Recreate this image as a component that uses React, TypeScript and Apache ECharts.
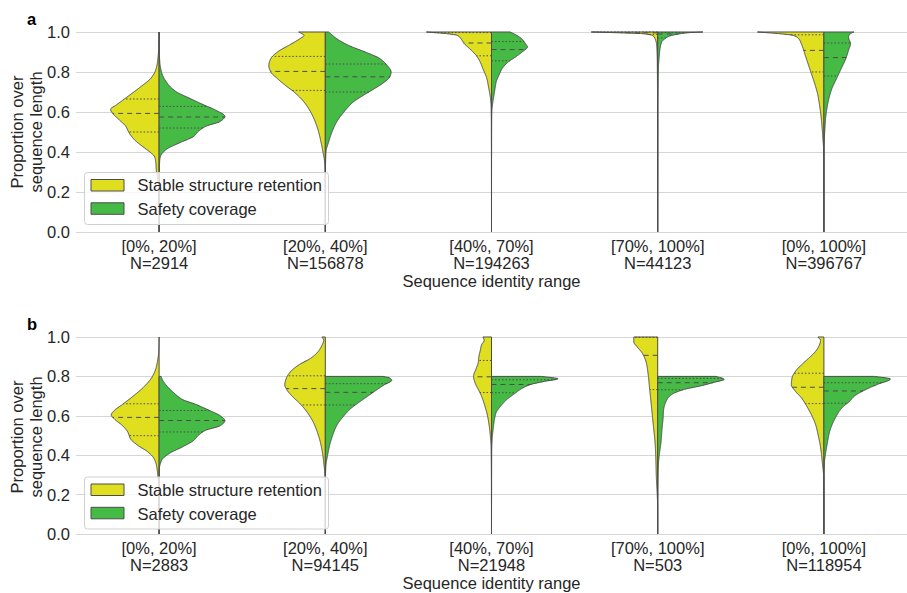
import React, { useEffect, useRef } from "react";
import * as echarts from "echarts";

// Category labels and sample counts for the two panels
const identityRanges = ["[0%, 20%]", "[20%, 40%]", "[40%, 70%]", "[70%, 100%]", "[0%, 100%]"];
const pairCountsA = [2914, 156878, 194263, 44123, 396767];
const pairCountsB = [2883, 94145, 21948, 503, 118954];
const hueNames = ["Stable structure retention", "Safety coverage"];
const hueColors = ["#dfdf20", "#45ba45"];

// Density profiles: [proportion, relative half-width]; 1 = widest half-violin
const retentionProfilesA: [number, number][][] = [
  [[0, 0], [0.15, 0.003], [0.25, 0.015], [0.3, 0.04], [0.35, 0.05], [0.378, 0.07], [0.395, 0.12], [0.428, 0.25], [0.461, 0.37], [0.495, 0.45], [0.528, 0.5], [0.561, 0.6], [0.59, 0.69], [0.613, 0.73], [0.636, 0.64], [0.678, 0.47], [0.728, 0.27], [0.77, 0.12], [0.811, 0.05], [0.86, 0.02], [0.92, 0.006], [1, 0]],
  [[0, 0], [0.3, 0.003], [0.35, 0.01], [0.4, 0.035], [0.45, 0.065], [0.5, 0.1], [0.55, 0.15], [0.6, 0.22], [0.65, 0.32], [0.7, 0.47], [0.733, 0.6], [0.767, 0.72], [0.8, 0.82], [0.833, 0.85], [0.867, 0.82], [0.9, 0.72], [0.933, 0.55], [0.967, 0.38], [0.983, 0.32], [1, 0.4]],
  [[0, 0], [0.5, 0.002], [0.617, 0.005], [0.667, 0.015], [0.717, 0.04], [0.767, 0.07], [0.817, 0.13], [0.85, 0.17], [0.883, 0.23], [0.917, 0.33], [0.942, 0.41], [0.967, 0.46], [0.983, 0.51], [0.992, 0.68], [1, 0.98]],
  [[0, 0], [0.6, 0.002], [0.85, 0.006], [0.933, 0.015], [0.967, 0.04], [0.983, 0.08], [0.992, 0.24], [1, 1]],
  [[0, 0], [0.35, 0.002], [0.417, 0.005], [0.467, 0.015], [0.533, 0.03], [0.583, 0.045], [0.633, 0.065], [0.683, 0.09], [0.733, 0.13], [0.783, 0.18], [0.833, 0.23], [0.883, 0.28], [0.933, 0.33], [0.967, 0.38], [0.983, 0.46], [0.992, 0.68], [1, 1]],
];
const coverageProfilesA: [number, number][][] = [
  [[0, 0], [0.3, 0.003], [0.36, 0.01], [0.378, 0.02], [0.411, 0.1], [0.445, 0.3], [0.478, 0.52], [0.503, 0.59], [0.528, 0.7], [0.553, 0.92], [0.578, 0.99], [0.611, 0.84], [0.636, 0.67], [0.67, 0.45], [0.703, 0.25], [0.745, 0.12], [0.795, 0.04], [0.85, 0.01], [0.92, 0.002], [1, 0]],
  [[0, 0], [0.3, 0.002], [0.4, 0.01], [0.45, 0.05], [0.5, 0.1], [0.55, 0.17], [0.6, 0.28], [0.65, 0.42], [0.683, 0.57], [0.717, 0.74], [0.75, 0.89], [0.775, 0.97], [0.8, 0.99], [0.833, 0.93], [0.867, 0.82], [0.9, 0.6], [0.933, 0.35], [0.967, 0.17], [1, 0.05]],
  [[0, 0], [0.5, 0.002], [0.6, 0.005], [0.65, 0.02], [0.7, 0.045], [0.75, 0.07], [0.783, 0.11], [0.817, 0.16], [0.85, 0.25], [0.875, 0.36], [0.9, 0.46], [0.925, 0.54], [0.942, 0.51], [0.967, 0.45], [0.987, 0.36], [1, 0.28]],
  [[0, 0], [0.6, 0.003], [0.817, 0.01], [0.867, 0.02], [0.917, 0.035], [0.95, 0.06], [0.967, 0.11], [0.98, 0.18], [0.988, 0.28], [0.997, 0.48], [1, 0.68]],
  [[0, 0], [0.4, 0.002], [0.45, 0.005], [0.517, 0.015], [0.567, 0.025], [0.617, 0.045], [0.667, 0.075], [0.717, 0.12], [0.767, 0.19], [0.817, 0.26], [0.867, 0.33], [0.908, 0.37], [0.942, 0.4], [0.975, 0.37], [0.992, 0.4], [1, 0.45]],
];
const retentionProfilesB: [number, number][][] = [
  [[0, 0], [0.2, 0.002], [0.25, 0.005], [0.3, 0.02], [0.35, 0.04], [0.383, 0.075], [0.417, 0.17], [0.45, 0.32], [0.483, 0.43], [0.517, 0.47], [0.55, 0.55], [0.583, 0.67], [0.605, 0.72], [0.625, 0.68], [0.658, 0.55], [0.7, 0.39], [0.75, 0.22], [0.8, 0.1], [0.85, 0.04], [0.933, 0.005], [1, 0]],
  [[0, 0], [0.25, 0.003], [0.317, 0.01], [0.367, 0.025], [0.417, 0.045], [0.467, 0.075], [0.517, 0.12], [0.567, 0.18], [0.617, 0.27], [0.658, 0.37], [0.7, 0.5], [0.733, 0.58], [0.758, 0.61], [0.792, 0.585], [0.825, 0.52], [0.858, 0.4], [0.892, 0.22], [0.925, 0.11], [0.958, 0.05], [0.983, 0.025], [1, 0.05]],
  [[0, 0], [0.3, 0.002], [0.44, 0.006], [0.5, 0.018], [0.55, 0.035], [0.6, 0.06], [0.65, 0.1], [0.7, 0.15], [0.735, 0.2], [0.77, 0.25], [0.8, 0.27], [0.84, 0.23], [0.87, 0.2], [0.9, 0.19], [0.93, 0.17], [0.96, 0.15], [0.983, 0.11], [1, 0.13]],
  [[0, 0], [0.15, 0.002], [0.185, 0.005], [0.285, 0.02], [0.4, 0.03], [0.467, 0.04], [0.533, 0.06], [0.6, 0.08], [0.667, 0.1], [0.733, 0.12], [0.8, 0.14], [0.867, 0.17], [0.917, 0.23], [0.95, 0.31], [0.975, 0.36], [1, 0.36]],
  [[0, 0], [0.25, 0.002], [0.3, 0.005], [0.35, 0.02], [0.4, 0.035], [0.45, 0.055], [0.5, 0.085], [0.55, 0.12], [0.6, 0.18], [0.65, 0.26], [0.692, 0.34], [0.725, 0.43], [0.758, 0.49], [0.792, 0.48], [0.825, 0.43], [0.858, 0.34], [0.892, 0.23], [0.925, 0.13], [0.958, 0.07], [0.983, 0.05], [1, 0.09]],
];
const coverageProfilesB: [number, number][][] = [
  [[0, 0], [0.3, 0.002], [0.333, 0.005], [0.375, 0.04], [0.408, 0.15], [0.442, 0.35], [0.475, 0.52], [0.5, 0.59], [0.525, 0.69], [0.55, 0.92], [0.575, 0.99], [0.6, 0.92], [0.625, 0.77], [0.658, 0.55], [0.683, 0.35], [0.717, 0.22], [0.75, 0.12], [0.783, 0.05], [0.8, 0.03]],
  [[0, 0], [0.3, 0.003], [0.35, 0.01], [0.4, 0.035], [0.45, 0.065], [0.5, 0.11], [0.55, 0.17], [0.6, 0.28], [0.633, 0.37], [0.667, 0.5], [0.7, 0.64], [0.733, 0.78], [0.758, 0.89], [0.78, 1], [0.792, 0.97], [0.8, 0.87]],
  [[0, 0], [0.3, 0.002], [0.417, 0.003], [0.483, 0.01], [0.533, 0.025], [0.583, 0.045], [0.617, 0.07], [0.633, 0.1], [0.658, 0.16], [0.683, 0.23], [0.708, 0.33], [0.733, 0.43], [0.758, 0.58], [0.775, 0.8], [0.788, 1], [0.8, 0.75]],
  [[0, 0], [0.25, 0.002], [0.285, 0.004], [0.35, 0.01], [0.418, 0.03], [0.467, 0.05], [0.533, 0.065], [0.583, 0.08], [0.633, 0.09], [0.683, 0.14], [0.708, 0.21], [0.733, 0.39], [0.753, 0.66], [0.77, 0.85], [0.785, 1], [0.8, 0.88]],
  [[0, 0], [0.3, 0.002], [0.37, 0.01], [0.418, 0.03], [0.468, 0.055], [0.518, 0.085], [0.568, 0.14], [0.6, 0.19], [0.618, 0.22], [0.65, 0.3], [0.668, 0.37], [0.7, 0.46], [0.735, 0.64], [0.76, 0.81], [0.787, 1], [0.8, 0.76]],
];

// Quartiles [Q1, median, Q3] per category
const retentionQuartilesA = [[0.5, 0.593, 0.665], [0.708, 0.803, 0.878], [0.881, 0.945, 0.997], [0.988, 0.996, 1.0], [0.8, 0.908, 0.986]];
const coverageQuartilesA = [[0.52, 0.575, 0.628], [0.7, 0.776, 0.84], [0.856, 0.912, 0.952], [0.97, 0.99, 0.998], [0.78, 0.872, 0.945]];
const retentionQuartilesB = [[0.499, 0.592, 0.661], [0.655, 0.738, 0.803], [0.718, 0.798, 0.881], [0.733, 0.907, 0.998], [0.662, 0.745, 0.816]];
const coverageQuartilesB = [[0.518, 0.576, 0.627], [0.655, 0.719, 0.763], [0.717, 0.759, 0.783], [0.732, 0.768, 0.79], [0.664, 0.726, 0.768]];

const yTicks = [0, 0.2, 0.4, 0.6, 0.8, 1.0];

const FONT = "'Liberation Sans', Arial, Helvetica, sans-serif";
const TEXT = "#262626";
const EDGE = "#4c4c4c";
const GRID = "#d6d6d6";
const FS = 16.5;

// Shape-preserving cubic interpolation through the profile knots
function monotone(pts: [number, number][]) {
  const n = pts.length;
  const xs = pts.map((p) => p[0]);
  const ys = pts.map((p) => p[1]);
  const h: number[] = [];
  const m: number[] = [];
  for (let i = 0; i < n - 1; i++) {
    h.push(xs[i + 1] - xs[i]);
    m.push((ys[i + 1] - ys[i]) / (xs[i + 1] - xs[i]));
  }
  const t: number[] = new Array(n).fill(0);
  t[0] = m[0];
  t[n - 1] = m[n - 2];
  for (let i = 1; i < n - 1; i++) {
    if (m[i - 1] * m[i] <= 0) t[i] = 0;
    else {
      const w1 = 2 * h[i] + h[i - 1];
      const w2 = h[i] + 2 * h[i - 1];
      t[i] = (w1 + w2) / (w1 / m[i - 1] + w2 / m[i]);
    }
  }
  return (x: number) => {
    if (x <= xs[0]) return ys[0];
    if (x >= xs[n - 1]) return ys[n - 1];
    let k = 0;
    while (k < n - 2 && x > xs[k + 1]) k++;
    const hk = h[k];
    const s = (x - xs[k]) / hk;
    const s2 = s * s;
    const s3 = s2 * s;
    const v =
      (2 * s3 - 3 * s2 + 1) * ys[k] +
      (s3 - 2 * s2 + s) * hk * t[k] +
      (-2 * s3 + 3 * s2) * ys[k + 1] +
      (s3 - s2) * hk * t[k + 1];
    return Math.max(0, v);
  };
}

function halfViolinSeries(
  name: string,
  color: string,
  side: number,
  gridIndex: number,
  profiles: [number, number][][],
  quartiles: number[][]
) {
  const interps = profiles.map(monotone);
  return {
    type: "custom",
    name,
    xAxisIndex: gridIndex,
    yAxisIndex: gridIndex,
    clip: false,
    z: 3,
    itemStyle: { color },
    data: profiles.map((_, i) => [i, quartiles[i][1]]),
    encode: { x: 0, y: 1 },
    renderItem: (params: any, api: any) => {
      const i = params.dataIndex;
      const cat = api.value(0);
      const prof = profiles[i];
      const f = interps[i];
      const half = api.size([1, 0])[0] * 0.4;
      const cx = api.coord([cat, 0])[0];
      const y0 = prof[0][0];
      const y1 = prof[prof.length - 1][0];
      const p0 = api.coord([cat, y0])[1];
      const p1 = api.coord([cat, y1])[1];
      const steps = Math.max(4, Math.ceil(Math.abs(p0 - p1) * 2));
      const ys: number[] = [];
      for (let k = 0; k <= steps; k++) ys.push(y0 + ((y1 - y0) * k) / steps);
      prof.forEach((p) => ys.push(p[0]));
      ys.sort((a, b) => a - b);
      const pts: number[][] = [[cx, p0]];
      ys.forEach((y) => pts.push([cx + side * f(y) * half, api.coord([cat, y])[1]]));
      pts.push([cx, p1]);
      const children: any[] = [
        {
          type: "polygon",
          shape: { points: pts },
          style: { fill: color, stroke: EDGE, lineWidth: 1, lineJoin: "round" },
        },
      ];
      quartiles[i].forEach((q, qi) => {
        const py = api.coord([cat, q])[1];
        const w = f(q) * half;
        children.push({
          type: "line",
          shape: { x1: cx, y1: py, x2: cx + side * w, y2: py },
          style: {
            stroke: EDGE,
            lineWidth: 1,
            lineDash: qi === 1 ? [5, 4] : [1.5, 2],
          },
        });
      });
      return { type: "group", children };
    },
  };
}

function legendGraphic(top: number) {
  const box = {
    type: "rect",
    z: 100,
    shape: { x: 84.5, y: top, width: 244, height: 52, r: 3 },
    style: { fill: "rgba(255,255,255,0.8)", stroke: "#d0d0d0", lineWidth: 1 },
  };
  const items = hueNames.map((nm, k) => [
    {
      type: "rect",
      z: 101,
      shape: { x: 91, y: top + 7 + k * 23.3, width: 33, height: 11.5 },
      style: { fill: hueColors[k], stroke: EDGE, lineWidth: 1 },
    },
    {
      type: "text",
      z: 101,
      x: 137.5,
      y: top + 12.8 + k * 23.8,
      style: {
        text: nm,
        fill: TEXT,
        font: `${FS}px ${FONT}`,
        textVerticalAlign: "middle",
        verticalAlign: "middle",
      },
    },
  ]);
  return [box, ...items.flat()];
}

function panelAxes(gridIndex: number, counts: number[]) {
  const xAxis = {
    type: "category",
    gridIndex,
    data: identityRanges,
    boundaryGap: true,
    axisLine: { show: false },
    axisTick: { show: false },
    splitLine: { show: false },
    axisLabel: {
      margin: 5,
      color: TEXT,
      fontFamily: FONT,
      fontSize: FS,
      lineHeight: 17,
      formatter: (v: string, idx: number) => `${v}\nN=${counts[idx]}`,
    },
    name: "Sequence identity range",
    nameLocation: "middle",
    nameGap: 40,
    nameTextStyle: { color: TEXT, fontFamily: FONT, fontSize: FS, lineHeight: 18 },
  };
  const yAxis = {
    type: "value",
    gridIndex,
    min: yTicks[0],
    max: yTicks[yTicks.length - 1],
    interval: 0.2,
    axisLine: { show: false },
    axisTick: { show: false },
    splitLine: { show: true, lineStyle: { color: GRID, width: 1 } },
    axisLabel: {
      margin: 6,
      color: TEXT,
      fontFamily: FONT,
      fontSize: FS,
      formatter: (v: number) => v.toFixed(1),
    },
  };
  return { xAxis, yAxis };
}

function yTitle(cy: number) {
  return {
    type: "text",
    z: 100,
    x: 26.5,
    y: cy,
    rotation: Math.PI / 2,
    style: {
      text: "Proportion over\nsequence length",
      fill: TEXT,
      font: `${FS}px ${FONT}`,
      lineHeight: 19,
      align: "center",
      verticalAlign: "middle",
      textAlign: "center",
      textVerticalAlign: "middle",
    },
  };
}

function panelLetter(letter: string, cy: number) {
  return {
    type: "text",
    z: 100,
    x: 27,
    y: cy,
    style: {
      text: letter,
      fill: "#000",
      font: `bold ${FS}px ${FONT}`,
      verticalAlign: "middle",
      textVerticalAlign: "middle",
    },
  };
}

export default function App() {
  const ref = useRef<HTMLDivElement>(null);
  useEffect(() => {
    if (!ref.current) return;
    const chart = echarts.init(ref.current, undefined, { renderer: "svg" });
    const a = panelAxes(0, pairCountsA);
    const b = panelAxes(1, pairCountsB);
    chart.setOption({
      animation: false,
      backgroundColor: "#ffffff",
      textStyle: { fontFamily: FONT },
      grid: [
        { left: 76, top: 32, width: 840, height: 200 },
        { left: 76, top: 337, width: 840, height: 200 },
      ],
      xAxis: [a.xAxis, b.xAxis],
      yAxis: [a.yAxis, b.yAxis],
      series: [
        halfViolinSeries(hueNames[0], hueColors[0], -1, 0, retentionProfilesA, retentionQuartilesA),
        halfViolinSeries(hueNames[1], hueColors[1], 1, 0, coverageProfilesA, coverageQuartilesA),
        halfViolinSeries(hueNames[0], hueColors[0], -1, 1, retentionProfilesB, retentionQuartilesB),
        halfViolinSeries(hueNames[1], hueColors[1], 1, 1, coverageProfilesB, coverageQuartilesB),
      ],
      graphic: [
        ...legendGraphic(172.5),
        ...legendGraphic(477),
        yTitle(132),
        yTitle(437),
        panelLetter("a", 19),
        panelLetter("b", 324),
      ],
    });
    return () => chart.dispose();
  }, []);
  return (
    <div
      ref={ref}
      style={{ position: "fixed", left: 0, top: 0, width: 907, height: 593, background: "#fff" }}
    />
  );
}
